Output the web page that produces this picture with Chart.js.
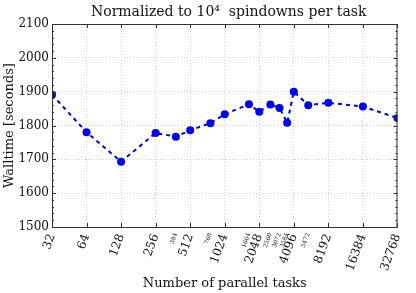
<!DOCTYPE html>
<html>
<head>
<meta charset="utf-8">
<script src="https://cdn.jsdelivr.net/npm/chart.js@4"></script>
<style>
  html, body { margin: 0; padding: 0; background: #fff; }
  #wrap { width: 416px; height: 293px; }
</style>
</head>
<body>
<div id="wrap"><canvas id="c"></canvas></div>
<script>
// parallel task counts and walltime (seconds), normalized to 10^4 spindowns
const tasks = [32, 64, 128, 256, 384, 512, 768, 1024, 1664, 2048, 2560, 3072, 3584, 4096, 5472, 8192, 16384, 32768];
const walltime = [1891, 1780, 1693, 1778, 1767, 1786, 1807, 1833, 1863, 1841, 1862, 1852, 1808, 1900, 1860, 1867, 1856, 1822];
const majorTicks = [32, 64, 128, 256, 512, 1024, 2048, 4096, 8192, 16384, 32768];
const yTicks = [1500, 1600, 1700, 1800, 1900, 2000, 2100];
const titleText = 'Normalized to 10\u2074  spindowns per task';

const serif = 'DejaVu Serif';

// frame round the plot, small inward tick marks, title centred over the plot
const frame = {
  id: 'frame',
  afterDraw(chart) {
    const { ctx, chartArea: a, scales } = chart;
    ctx.save();
    ctx.strokeStyle = '#333';
    ctx.lineWidth = 1;
    ctx.strokeRect(a.left + 0.5, a.top + 0.5, a.right - a.left - 1, a.bottom - a.top);
    ctx.beginPath();
    majorTicks.forEach(v => {
      const x = Math.round(scales.x.getPixelForValue(v)) + 0.5;
      ctx.moveTo(x, a.top); ctx.lineTo(x, a.top + 4);
      ctx.moveTo(x, a.bottom); ctx.lineTo(x, a.bottom - 4);
    });
    for (let v = yTicks[0]; v <= yTicks[yTicks.length - 1]; v += 20) {
      const y = Math.round(scales.y.getPixelForValue(v)) + 0.5;
      const len = v % 100 === 0 ? 4 : 2;
      ctx.moveTo(a.left, y); ctx.lineTo(a.left + len, y);
      ctx.moveTo(a.right, y); ctx.lineTo(a.right - len, y);
    }
    ctx.stroke();
    ctx.fillStyle = '#111';
    ctx.font = '14px "' + serif + '"';
    ctx.textAlign = 'center';
    ctx.textBaseline = 'middle';
    ctx.fillText(titleText, (a.left + a.right) / 2 + 4, 12);
    ctx.restore();
  }
};

new Chart(document.getElementById('c'), {
  type: 'line',
  data: {
    datasets: [{
      data: tasks.map((t, i) => ({ x: t, y: walltime[i] })),
      borderColor: '#0000ee',
      backgroundColor: '#0000ee',
      borderWidth: 2,
      borderDash: [4, 4],
      pointRadius: 4,
      pointBorderWidth: 0,
      tension: 0
    }]
  },
  options: {
    responsive: true,
    maintainAspectRatio: false,
    animation: false,
    layout: { padding: { left: 0, right: 15, top: 24, bottom: 0 } },
    plugins: {
      legend: { display: false },
      tooltip: { enabled: false },
      title: { display: false }
    },
    scales: {
      x: {
        type: 'logarithmic',
        min: 32,
        max: 32768,
        afterBuildTicks: s => {
          s.ticks = tasks.map(v => ({ value: v, major: majorTicks.includes(v) }));
        },
        afterFit: s => { s.height = 66; },
        grid: {
          color: c => (c.tick && majorTicks.includes(c.tick.value)) ? '#d0d0d0' : 'rgba(0,0,0,0)',
          drawTicks: false,
          lineWidth: 1
        },
        border: { display: false, dash: [1, 2] },
        ticks: {
          autoSkip: false,
          minRotation: 70,
          maxRotation: 70,
          padding: 5,
          color: '#111',
          callback: v => String(v),
          font: c => ({
            family: serif,
            size: (c.tick && majorTicks.includes(c.tick.value)) ? 12 : 6
          })
        },
        title: {
          display: true,
          text: 'Number of parallel tasks',
          color: '#111',
          font: { family: serif, size: 13 },
          padding: { top: 0, bottom: 2 }
        }
      },
      y: {
        min: 1500,
        max: 2100,
        afterBuildTicks: s => { s.ticks = yTicks.map(v => ({ value: v })); },
        afterFit: s => { s.width = 52; },
        grid: { color: '#d0d0d0', drawTicks: false, lineWidth: 1 },
        border: { display: false, dash: [1, 2] },
        ticks: {
          color: '#111',
          padding: 3,
          callback: v => String(v),
          font: { family: serif, size: 12 }
        },
        title: {
          display: true,
          text: 'Walltime [seconds]',
          color: '#111',
          font: { family: serif, size: 13 },
          padding: { top: 2, bottom: 0 }
        }
      }
    }
  },
  plugins: [frame]
});
</script>
</body>
</html>
